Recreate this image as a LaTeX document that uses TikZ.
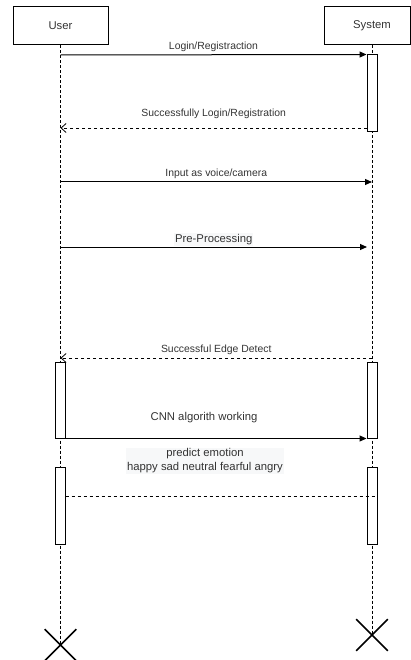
\documentclass[tikz,border=0pt]{standalone}
\usepackage{fontspec}
\setmainfont{Liberation Sans}
\usetikzlibrary{arrows.meta,shapes.misc}
\definecolor{labelgray}{RGB}{51,51,51}
\definecolor{labelbg}{RGB}{247,248,249}

\begin{document}
\begin{tikzpicture}[x=1pt, y=-1pt,
    actor/.style={draw, line width=1pt, minimum height=38pt, inner sep=0pt,
                  font=\fontsize{11.3}{13}\selectfont, text=labelgray},
    bar/.style={draw, fill=white, line width=1pt, minimum width=10pt, inner sep=0pt},
    lifeline/.style={line width=0.8pt, dash pattern=on 3pt off 2pt},
    msg/.style={-{Triangle[length=7pt,width=6pt]}, line width=1pt},
    reply/.style={-{Straight Barb[length=5pt,width=9pt]}, line width=0.8pt, dash pattern=on 3pt off 3pt},
    small/.style={font=\fontsize{10.4}{12}\selectfont, text=labelgray, inner sep=1pt},
    big/.style={font=\fontsize{11.3}{14}\selectfont, text=labelgray, inner sep=1pt},
    stop/.style={cross out, draw, line width=1.6pt, minimum size=30pt, inner sep=0pt}
]
\useasboundingbox (0,0) rectangle (411,660);
%% ============================================================
%% ACTORS, LIFELINES AND END MARKS
%% ============================================================
\node[actor, minimum width=95pt] (user) at (60.5,26) {User};
\node[actor, minimum width=86pt,
      label={[font=\fontsize{11.3}{13}\selectfont, text=labelgray, xshift=5pt]center:System}] (sys) at (367,26) {};
\node[stop] (userstop) at (60.5,645) {};
\node[stop] (sysstop) at (372,635) {};
\draw[lifeline] (user) -- (userstop.center);
\draw[lifeline] (sys.south -| sysstop.center) -- (sysstop.center);
%% ============================================================
%% ACTIVATION BARS
%% ============================================================
\node[bar, minimum height=77pt] (bar1) at (372,93.5) {};
\node[bar, minimum height=76pt] (bar2u) at (60.5,400) {};
\node[bar, minimum height=76pt] (bar2s) at (372,400) {};
\node[bar, minimum height=77pt] (bar3u) at (60.5,505.5) {};
\node[bar, minimum height=77pt] (bar3s) at (372,505.5) {};
%% ============================================================
%% MESSAGES
%% ============================================================
\coordinate (u1) at (60.5,55);
\draw[msg] (u1) -- (bar1.north west)
    node[midway, above=2pt, small] (l1) {Login/Registraction};
\coordinate (s2) at (367,128);
\coordinate (u2) at (60.5,128);
\draw[reply] (s2) -- (u2)
    node[midway, above=8pt, small] (l2) {Successfully Login/Registration};
\coordinate (u3) at (60.5,182);
\coordinate (s3) at (372,182);
\draw[msg] (u3) -- (s3)
    node[midway, above=2pt, small] (l3) {Input as voice/camera};
\coordinate (u4) at (60.5,247);
\coordinate (s4) at (367,247);
\draw[msg] (u4) -- (s4)
    node[midway, above=1pt, big, fill=labelbg] (l4) {Pre-Processing};
\coordinate (s5) at (372,358);
\coordinate (u5) at (60.5,358);
\draw[reply] (s5) -- (u5)
    node[midway, above=2pt, small] (l5) {Successful Edge Detect};
\draw[msg] (bar2u.south east) -- (bar2s.south west);
\node[big] (l6) at (204,418) {CNN algorith working};
\node[big, fill=labelbg, align=center] (l7) at (205,461) {predict emotion\\happy sad neutral fearful angry};
\coordinate (u7) at (65.5,496);
\coordinate (s7) at (377,496);
\draw[line width=0.8pt, dash pattern=on 3pt off 3pt] (u7) -- (s7);
\end{tikzpicture}
\end{document}
